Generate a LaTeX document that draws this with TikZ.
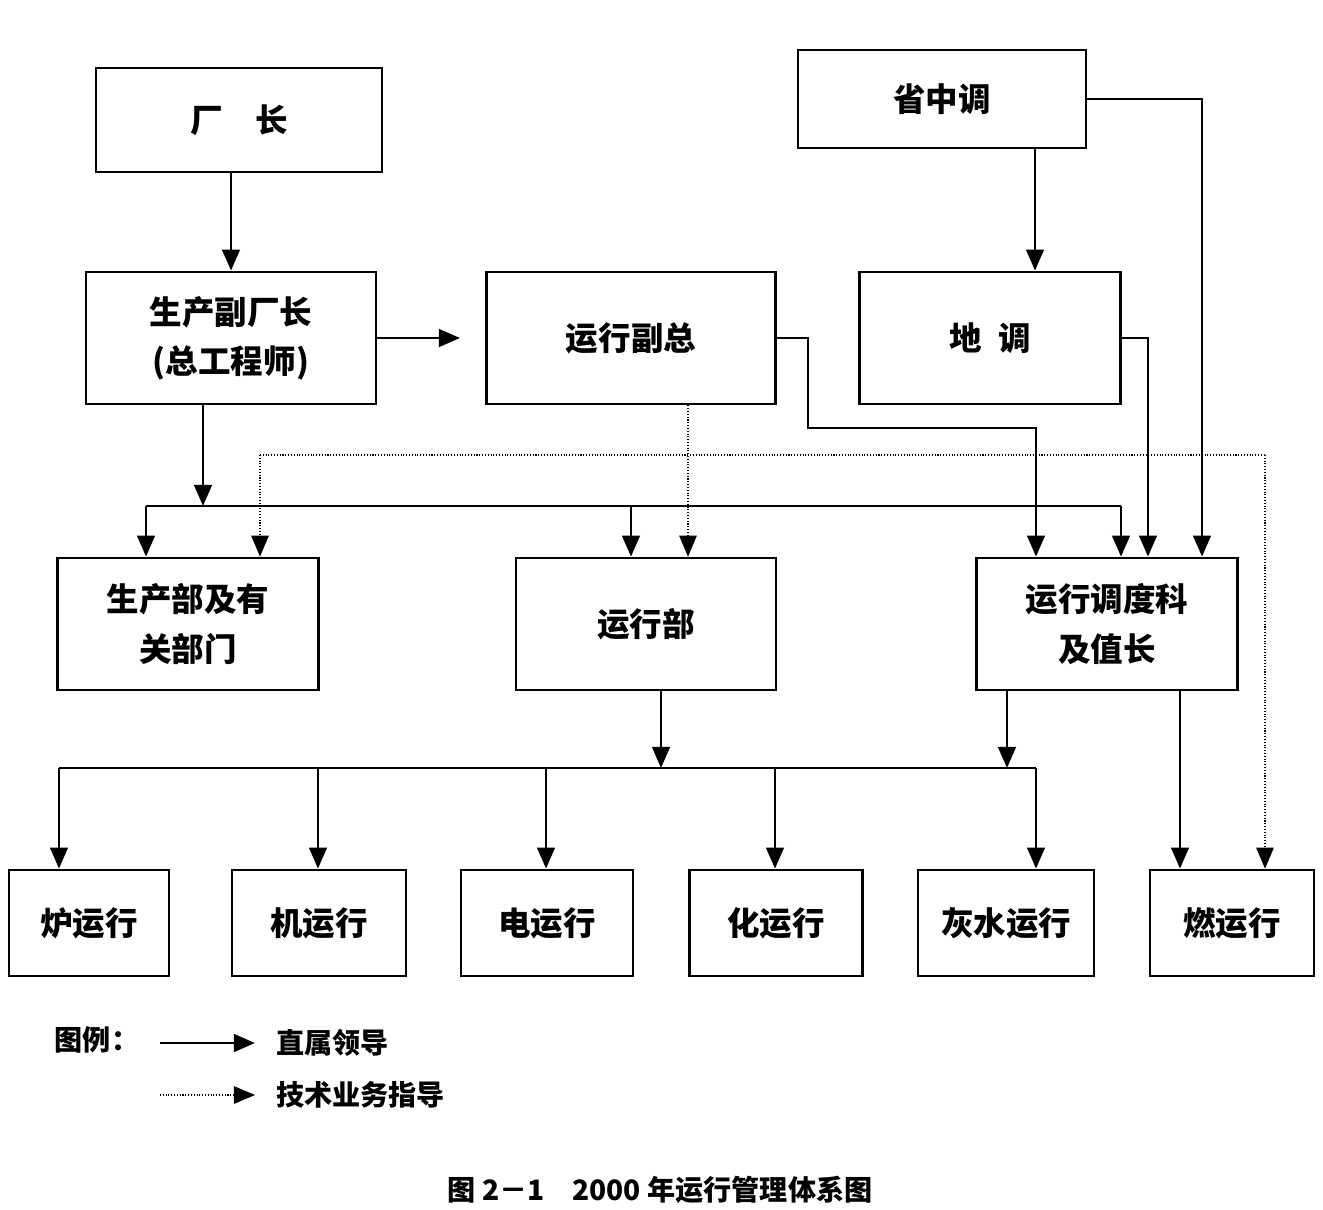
\documentclass[tikz,border=0pt]{standalone}
\usepackage{fontspec}
\setmainfont{Noto Sans CJK SC}
\usetikzlibrary{arrows.meta}
\tikzset{
  box/.style={draw=black, line width=1.6pt, inner sep=0pt, align=center, font=\fontsize{18.5}{28}\selectfont\bfseries},
  line/.style={line width=1.6pt},
  arr/.style={line width=1.6pt, -{Triangle[length=12pt,width=10pt]}},
  dot/.style={line width=0.6pt, densely dotted, -{Triangle[length=12pt,width=10pt]}},
  lbl/.style={font=\fontsize{16}{18}\selectfont\bfseries}
}
\begin{document}
\begin{tikzpicture}[x=0.02cm,y=-0.02cm]
\useasboundingbox (0,0) rectangle (1323,1210);
                \begin{scope}[every node/.style={box}]
                    \node (cz) [minimum width=5.72cm, minimum height=2.08cm] at (239,120) {厂\quad 长};
                    \node (sc) [minimum width=5.8cm, minimum height=2.64cm] at (231,338) {生产副厂长\\(总工程师)};
                    \node (yf) [minimum width=5.78cm, minimum height=2.64cm] at (631,338) {运行副总};
                    \node (szd) [minimum width=5.76cm, minimum height=1.96cm] at (942,99) {省中调};
                    \node (dd) [minimum width=5.22cm, minimum height=2.64cm] at (990,338) {地\enspace 调};
                    \node (scb) [minimum width=5.22cm, minimum height=2.64cm] at (188,624) {生产部及有\\关部门};
                    \node (yxb) [minimum width=5.2cm, minimum height=2.64cm] at (646,624) {运行部};
                    \node (ddk) [minimum width=5.22cm, minimum height=2.64cm] at (1107,624) {运行调度科\\及值长};
                    \node (lu) [minimum width=3.2cm, minimum height=2.12cm] at (89,923) {炉运行};
                    \node (ji) [minimum width=3.48cm, minimum height=2.12cm] at (319,923) {机运行};
                    \node (dian) [minimum width=3.44cm, minimum height=2.12cm] at (547,923) {电运行};
                    \node (hua) [minimum width=3.46cm, minimum height=2.12cm] at (776,923) {化运行};
                    \node (hs) [minimum width=3.52cm, minimum height=2.12cm] at (1006,923) {灰水运行};
                    \node (ran) [minimum width=3.28cm, minimum height=2.12cm] at (1232,923) {燃运行};
                \end{scope}
                % bus points
                \coordinate (tip) at (460,338);
                \coordinate (s1) at (203,506);
                \coordinate (busA) at (146,506);
                \coordinate (busM) at (631,506);
                \coordinate (busB) at (1121,506);
                \coordinate (dv) at (688,455);
                \coordinate (dotL) at (260,455);
                \coordinate (dotR) at (1265,455);
                \coordinate (k1) at (808,428);
                \coordinate (k2) at (1036,428);
                \coordinate (k3) at (1148,338);
                \coordinate (k4) at (1035,200);
                \coordinate (k5) at (1202,99);
                \coordinate (k6) at (661,768);
                \coordinate (k7) at (1007,768);
                \coordinate (k8) at (1180,800);
                \coordinate (busC) at (59,768);
                \coordinate (busD) at (1036,768);
                \begin{scope}
                    \draw[arr] (cz.south -| sc.north) -- (sc.north);
                    \draw[arr] (sc.east) -- (tip);
                    \draw[arr] (sc.south -| s1) -- (s1);
                    \draw[line] (busA) -- (busB);
                    \draw[arr] (busA) -- (busA |- scb.north);
                    \draw[arr] (busM) -- (busM |- yxb.north);
                    \draw[arr] (busB) -- (busB |- ddk.north);
                    \draw[dot] (yf.south -| dv) -- (yxb.north -| dv);
                    \draw[dot,-] (dotL) -- (dotR);
                    \draw[dot] (dotL) -- (dotL |- scb.north);
                    \draw[dot] (dotR) -- (dotR |- ran.north);
                    \draw[arr] (yf.east) -| (k1) -- (k2) -- (k2 |- ddk.north);
                    \draw[arr] (dd.east) -| (k3 |- ddk.north);
                    \draw[arr] (szd.south -| k4) -- (dd.north -| k4);
                    \draw[arr] (szd.east) -| (k5 |- ddk.north);
                    \draw[arr] (yxb.south -| k6) -- (k6);
                    \draw[arr] (ddk.south -| k7) -- (k7);
                    \draw[line] (busC) -- (busD);
                    \foreach \n/\x in {lu/59,ji/318,dian/546,hua/775,hs/1036}
                        \draw[arr] (\x,768) -- (\n.north -| \x,768);
                    \draw[arr] (ddk.south -| k8) -- (ran.north -| k8);
                \end{scope}
                % legend
                \node (lg) [lbl] at (97,1040) {图例：};
                \coordinate (l1) at (160,1043);
                \coordinate (l2) at (255,1043);
                \coordinate (l3) at (160,1095);
                \coordinate (l4) at (255,1095);
                \draw[arr] (l1) -- (l2);
                \draw[dot] (l3) -- (l4);
                \node (zs) [lbl, anchor=west] at (270,1043) {直属领导};
                \node (js) [lbl, anchor=west] at (270,1095) {技术业务指导};
                \node (cap) [lbl] at (660,1190) {图 2－1\quad 2000 年运行管理体系图};
\end{tikzpicture}
\end{document}
